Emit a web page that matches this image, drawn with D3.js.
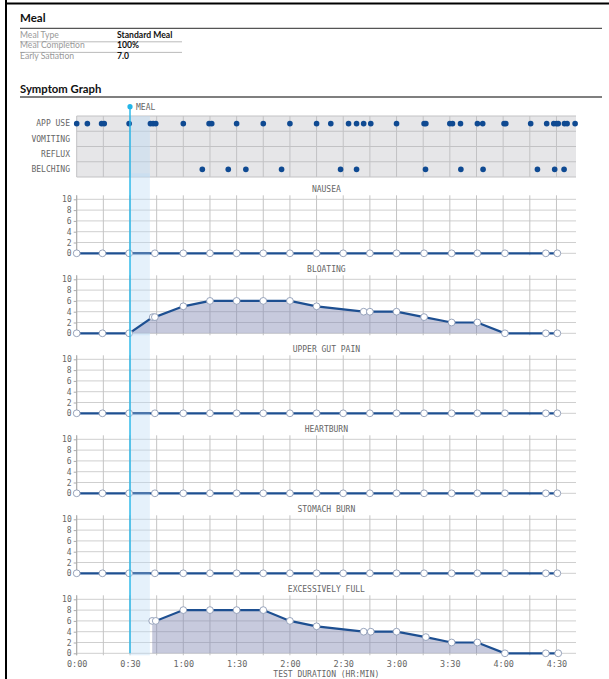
<!DOCTYPE html>
<html>
<head>
<meta charset="utf-8">
<script src="https://cdn.jsdelivr.net/npm/d3@7"></script>
<style>
  html, body { margin: 0; padding: 0; background: #fff; }
  svg { display: block; }
</style>
</head>
<body>
<svg id="chart" width="609" height="679"></svg>
<script>
// ---------- data ----------
const mealInfoLabels = ["Meal Type", "Meal Completion", "Early Satiation"];
const mealInfoValues = ["Standard Meal", "100%", "7.0"];

const eventRows = ["APP USE", "VOMITING", "REFLUX", "BELCHING"];
const appUseTimes = [0, 6, 14, 15.5, 29.5, 41.5, 43, 44.5, 60, 74.5, 76, 90, 105, 120, 135, 143, 153, 157.5, 161.5, 165.5, 180, 195.5, 196.5, 210, 211.5, 216, 225.5, 228.5, 240.5, 241.5, 255.5, 264.5, 268.5, 270, 271, 274.5, 276, 280.5];
const vomitingTimes = [];
const refluxTimes = [];
const belchingTimes = [70.7, 85.3, 95.2, 115.3, 148.5, 157.5, 196.3, 216.2, 228.7, 259.3, 269, 274.3];

const mealTime = 30;        // minutes
const mealEndTime = 41.2;   // end of meal window

const symptomNames = ["NAUSEA", "BLOATING", "UPPER GUT PAIN", "HEARTBURN", "STOMACH BURN", "EXCESSIVELY FULL"];
const zeroTimes = [0, 14.5, 29.5, 44, 60, 75, 90, 105, 120, 135, 150, 165, 180, 195.5, 211, 225.5, 241, 264, 270.5];
const zeroValues = [0, 0, 0, 0, 0, 0, 0, 0, 0, 0, 0, 0, 0, 0, 0, 0, 0, 0, 0];
const bloatingTimes = [0, 14.5, 29.5, 42.8, 44, 60, 75, 90, 105, 120, 135, 161.5, 165, 180, 195.5, 211, 225.5, 241, 264, 270.5];
const bloatingValues = [0, 0, 0, 3, 3, 5, 6, 6, 6, 6, 5, 4, 4, 4, 3, 2, 2, 0, 0, 0];
const fullTimes = [42.5, 44.5, 60, 75, 90, 105, 120, 135, 161.5, 165.5, 180, 196.5, 211, 225.5, 241, 264, 271];
const fullValues = [6, 6, 8, 8, 8, 8, 6, 5, 4, 4, 4, 3, 2, 2, 0, 0, 0];

const xTickValues = [0, 30, 60, 90, 120, 150, 180, 210, 240, 270];
const xGridValues = d3.range(0, 271, 15);
const yTickValues = [0, 2, 4, 6, 8, 10];

// ---------- layout ----------
const svg = d3.select("#chart");
const mono = "'DejaVu Sans Mono', monospace";
const sans = "Lato, 'Open Sans', sans-serif";
const labelColor = "#666";
const lineColor = "#1d4f91";
const dotColor = "#0f4a92";
const mealColor = "#22b5e8";

const x = d3.scaleLinear().domain([0, 281]).range([76.7, 576]);
const fmt = m => `${Math.floor(m / 60)}:${String(m % 60).padStart(2, "0")}`;

// page border
svg.append("line").attr("x1", 6).attr("x2", 6).attr("y1", 0).attr("y2", 679)
  .attr("stroke", "#000").attr("stroke-width", 2);
svg.append("line").attr("x1", 5).attr("x2", 609).attr("y1", 3.5).attr("y2", 3.5)
  .attr("stroke", "#000").attr("stroke-width", 2);

// header: Meal
svg.append("text").attr("x", 20).attr("y", 22).text("Meal")
  .attr("font-family", sans).attr("font-weight", 700).attr("font-size", 11.5).attr("fill", "#111");
svg.append("line").attr("x1", 20).attr("x2", 602).attr("y1", 28.3).attr("y2", 28.3)
  .attr("stroke", "#555").attr("stroke-width", 1.3);
mealInfoLabels.forEach((lab, i) => {
  const by = 37.8 + i * 10.6;
  svg.append("text").attr("x", 20).attr("y", by).text(lab)
    .attr("font-family", sans).attr("font-size", 8.6).attr("fill", "#999");
  svg.append("text").attr("x", 117).attr("y", by).text(mealInfoValues[i])
    .attr("font-family", sans).attr("font-weight", 700).attr("font-size", 8.6).attr("fill", "#111");
  if (i < mealInfoLabels.length - 1) {
    svg.append("line").attr("x1", 20).attr("x2", 182).attr("y1", by + 4).attr("y2", by + 4)
      .attr("stroke", "#aaa").attr("stroke-width", 0.8);
  }
});

// header: Symptom Graph
svg.append("text").attr("x", 20).attr("y", 93).text("Symptom Graph")
  .attr("font-family", sans).attr("font-weight", 700).attr("font-size", 11.3).attr("fill", "#111");
svg.append("line").attr("x1", 20).attr("x2", 602).attr("y1", 97).attr("y2", 97)
  .attr("stroke", "#555").attr("stroke-width", 1.3);

// ---------- event chart ----------
const evTop = 116, evBottom = 177;
const yEv = d3.scaleBand().domain(eventRows).range([evTop, evBottom]);
const ev = svg.append("g");
ev.append("rect").attr("x", x(0)).attr("y", evTop).attr("width", x.range()[1] - x(0)).attr("height", evBottom - evTop)
  .attr("fill", "#e6e6e8");
ev.selectAll(".vg").data(xGridValues).join("line")
  .attr("x1", d => x(d)).attr("x2", d => x(d)).attr("y1", evTop).attr("y2", evBottom)
  .attr("stroke", "#c2c2c4").attr("stroke-width", 1);
ev.selectAll(".hg").data(eventRows.map(r => yEv(r)).concat([evBottom])).join("line")
  .attr("x1", x(0)).attr("x2", x.range()[1]).attr("y1", d => d).attr("y2", d => d)
  .attr("stroke", "#c2c2c4").attr("stroke-width", 1);
ev.append("rect").attr("x", x(mealTime)).attr("y", evTop).attr("width", x(mealEndTime) - x(mealTime)).attr("height", evBottom - evTop)
  .attr("fill", "rgb(190,220,245)").attr("opacity", 0.45);
ev.selectAll(".rl").data(eventRows).join("text")
  .attr("x", 70).attr("y", d => yEv(d) + yEv.bandwidth() / 2).attr("dy", "0.35em")
  .attr("text-anchor", "end").text(d => d)
  .attr("font-family", mono).attr("font-size", 8).attr("fill", labelColor);
const evData = [appUseTimes, vomitingTimes, refluxTimes, belchingTimes];
evData.forEach((arr, i) => {
  ev.selectAll(null).data(arr).join("circle")
    .attr("cx", d => x(d)).attr("cy", yEv(eventRows[i]) + yEv.bandwidth() / 2).attr("r", 2.8)
    .attr("fill", dotColor);
});

// ---------- symptom panels ----------
const seriesTimes = [zeroTimes, bloatingTimes, zeroTimes, zeroTimes, zeroTimes, fullTimes];
const seriesValues = [zeroValues, bloatingValues, zeroValues, zeroValues, zeroValues, fullValues];
const panelTop0 = 199.3, panelStep = 80, panelH = 54;
let lastBottom = 0;

symptomNames.forEach((name, i) => {
  const top = panelTop0 + i * panelStep, bottom = top + panelH;
  lastBottom = bottom;
  const y = d3.scaleLinear().domain([0, 10]).range([bottom, top]);
  const g = svg.append("g");
  g.append("text").attr("x", (x(0) + x.range()[1]) / 2).attr("y", top - 7.5).attr("text-anchor", "middle")
    .text(name).attr("font-family", mono).attr("font-size", 8).attr("fill", labelColor);
  // horizontal grid
  g.selectAll(".hg").data(yTickValues).join("line")
    .attr("x1", x(0)).attr("x2", x.range()[1]).attr("y1", d => y(d)).attr("y2", d => y(d))
    .attr("stroke", "#cfcfcf").attr("stroke-width", 1);
  // vertical grid
  g.selectAll(".vg").data(xGridValues).join("line")
    .attr("x1", d => x(d)).attr("x2", d => x(d)).attr("y1", top - 4).attr("y2", bottom + 2)
    .attr("stroke", "#c4c4c4").attr("stroke-width", 1);
  // y axis
  const ya = g.append("g").attr("transform", `translate(${x(0)},0)`)
    .call(d3.axisLeft(y).tickValues(yTickValues).tickSize(3).tickPadding(2));
  ya.select(".domain").attr("stroke", "#aaa").attr("d", `M0,${top - 4}V${bottom + 2}`);
  ya.selectAll(".tick line").attr("stroke", "#aaa");
  ya.selectAll(".tick text").attr("font-family", mono).attr("font-size", 8).attr("fill", labelColor);
  // meal band
  g.append("rect").attr("x", x(mealTime)).attr("y", top - 26).attr("width", x(mealEndTime) - x(mealTime))
    .attr("height", panelH + 28).attr("fill", "rgb(190,220,245)").attr("opacity", 0.4);
  // series
  const pts = seriesTimes[i].map((t, k) => ({ t, v: seriesValues[i][k] }));
  g.append("path").datum(pts)
    .attr("d", d3.area().x(d => x(d.t)).y0(y(0)).y1(d => y(d.v)))
    .attr("fill", "rgb(130,137,180)").attr("opacity", 0.45);
  g.append("path").datum(pts)
    .attr("d", d3.line().x(d => x(d.t)).y(d => y(d.v)))
    .attr("fill", "none").attr("stroke", lineColor).attr("stroke-width", 2.2);
  g.selectAll(".pt").data(pts).join("circle")
    .attr("cx", d => x(d.t)).attr("cy", d => y(d.v)).attr("r", 3.4)
    .attr("fill", "#fff").attr("stroke", "#8d9bb6").attr("stroke-width", 0.9);
});

// x axis
const xa = svg.append("g").attr("transform", `translate(0,${lastBottom})`)
  .call(d3.axisBottom(x).tickValues(xTickValues).tickFormat(fmt).tickSize(0).tickPadding(8));
xa.select(".domain").remove();
xa.selectAll(".tick text").attr("font-family", mono).attr("font-size", 8.5).attr("fill", labelColor);
svg.append("text").attr("x", (x(0) + x.range()[1]) / 2).attr("y", 677).attr("text-anchor", "middle")
  .text("TEST DURATION (HR:MIN)").attr("font-family", mono).attr("font-size", 8).attr("fill", labelColor);

// meal marker
svg.append("line").attr("x1", x(mealTime)).attr("x2", x(mealTime)).attr("y1", 106.7).attr("y2", lastBottom)
  .attr("stroke", mealColor).attr("stroke-width", 1.4);
svg.append("circle").attr("cx", x(mealTime)).attr("cy", 106.7).attr("r", 2.6).attr("fill", mealColor);
svg.append("text").attr("x", x(mealTime) + 6).attr("y", 110).text("MEAL")
  .attr("font-family", mono).attr("font-size", 8).attr("fill", labelColor);
</script>
</body>
</html>
